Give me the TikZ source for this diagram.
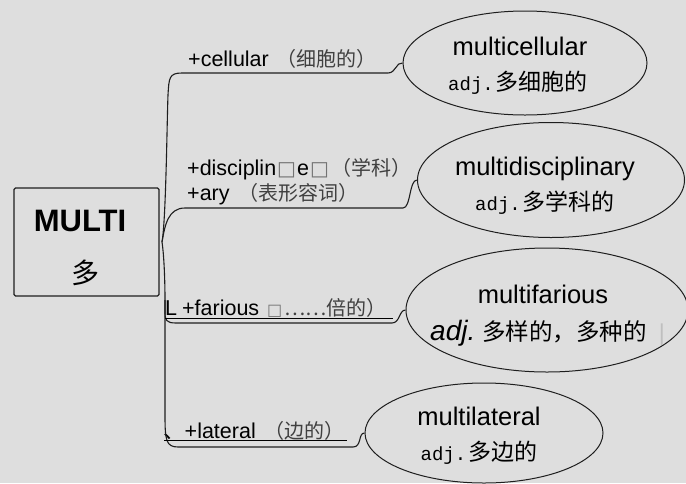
\documentclass[tikz,border=0pt]{standalone}
\usepackage{fontspec}
\setmainfont{Liberation Sans}
\newfontfamily\cjk{Noto Sans CJK SC}
\newfontfamily\monof{Liberation Mono}
\newfontfamily\symf{DejaVu Sans}
\usetikzlibrary{shapes.geometric}
\definecolor{bg}{RGB}{222,222,222}
\definecolor{ink}{RGB}{30,30,30}
\newcommand{\cnl}[1]{{\cjk\fontsize{20}{22}\selectfont\color{black!75}#1}}
\newcommand{\sqbox}[1]{{\symf\fontsize{#1}{14}\selectfont\color{black!55}□}}
\begin{document}
\begin{tikzpicture}[x=1pt,y=-1pt,
  ebox/.style={draw=ink,line width=1pt,ellipse,inner sep=0pt},
  branch/.style={draw=ink,line width=1.1pt},
  uline/.style={draw=black,line width=1pt},
  lbl/.style={anchor=base west,inner sep=0pt,font=\fontsize{21.5}{24}\selectfont},
  word/.style={anchor=base,inner sep=0pt,font=\fontsize{25.5}{28}\selectfont},
  mean/.style={anchor=base,inner sep=0pt,font=\fontsize{23}{26}\selectfont}
]
\fill[bg] (0,0) rectangle (686,483);
\useasboundingbox (0,0) rectangle (686,483);

% root box
\node[draw=ink,line width=1.2pt,rounded corners=1.5pt,minimum width=145pt,minimum height=108pt,inner sep=0pt] (root) at (86.5,242) {};
\node[anchor=base,inner sep=0pt,font=\bfseries\fontsize{31}{34}\selectfont] (rootw) at (80,231) {MULTI};
\node[anchor=center,inner sep=0pt,font=\cjk\fontsize{28}{30}\selectfont] (rootc) at (85,273) {多};

% ellipses
\node[ebox,minimum width=244pt,minimum height=104pt] (e1) at (525,63) {};
\node[ebox,minimum width=267pt,minimum height=115pt] (e2) at (551,180) {};
\node[ebox,minimum width=282pt,minimum height=124pt] (e3) at (547,310) {};
\node[ebox,minimum width=238pt,minimum height=100pt] (e4) at (484,433) {};

% ellipse texts
\node[word] (w1) at (520,55) {multicellular};
\node[mean] (m1) at (518,90) {{\monof\fontsize{19}{22}\selectfont adj.}\hspace{2pt}{\cjk 多细胞的}};
\node[word] (w2) at (545,175) {multidisciplinary};
\node[mean] (m2) at (545,210) {{\monof\fontsize{19}{22}\selectfont adj.}\hspace{2pt}{\cjk 多学科的}};
\node[word] (w3) at (543,303) {multifarious};
\node[mean,anchor=base west] (m3) at (430,340) {{\itshape\fontsize{28}{30}\selectfont adj.}\hspace{7pt}{\cjk\fontsize{23.5}{26}\selectfont 多样的，多种的}\hspace{12pt}{\color{black!25}|}};
\node[word] (w4) at (479,425) {multilateral};
\node[mean] (m4) at (479,460) {{\monof\fontsize{19}{22}\selectfont adj.}\hspace{2pt}{\cjk 多边的}};

% branch labels
\node[lbl] (l1) at (188,66) {+cellular\hspace{8pt}\cnl{（细胞的）}};
\node[lbl] (l2a) at (187,175) {+disciplin\hspace{1pt}\sqbox{20}\hspace{1pt}e\hspace{1pt}\sqbox{20}\hspace{3pt}\cnl{（学科）}};
\node[lbl] (l2b) at (187,200) {+ary\hspace{9pt}\cnl{（表形容词）}};
\node[lbl] (l3) at (165,315) {L\hspace{5pt}+farious\hspace{8pt}\sqbox{16}\hspace{2pt}\cnl{……倍的）}};
\node[lbl] (l4) at (163,438) {{\cjk 、}+lateral\hspace{9pt}\cnl{（边的）}};

% hub
\coordinate (hub) at (162,242);

% branches
\draw[branch] (hub) .. controls (166,220) and (167,120) .. (168,95) .. controls (169,78) and (169,73) .. (182,73) -- (388,73) .. controls (396,73) and (396,62) .. (e1.west);
\draw[branch] (hub) .. controls (165,225) and (168,208) .. (185,208) -- (403,208) .. controls (411,208) and (409,180) .. (e2.west);
\draw[branch] (hub) .. controls (164,255) and (165,280) .. (165,300) -- (165,312) .. controls (165,320) and (166,323) .. (176,323) -- (392,323) .. controls (400,323) and (399,310) .. (e3.west);
\draw[branch] (165,300) -- (165,415) .. controls (165,440) and (166,447) .. (178,447) -- (353,447) .. controls (362,447) and (358,433) .. (e4.west);

% underlines
\draw[uline] (165,318) -- (393,318);
\draw[uline] (164,440) -- (347,440);
\end{tikzpicture}
\end{document}
